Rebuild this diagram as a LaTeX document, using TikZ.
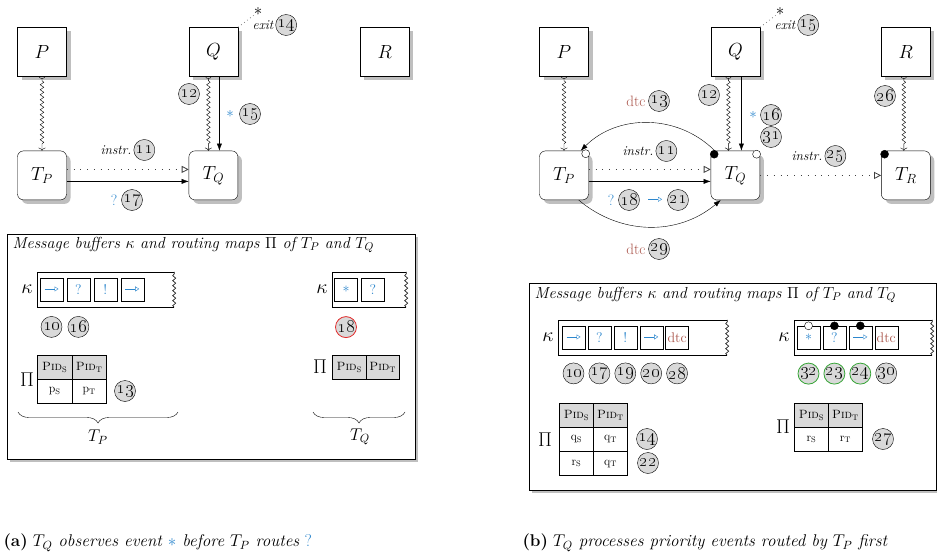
\documentclass[tikz,border=0pt]{standalone}
\usepackage{fix-cm}
\usepackage{amsmath}
\usepackage{tikz}
\usetikzlibrary{arrows,arrows.meta,calc,positioning,shadows,shapes,matrix,decorations.pathmorphing,decorations.pathreplacing}

\definecolor{evblue}{RGB}{45,135,205}
\definecolor{dtcred}{RGB}{170,85,75}
\definecolor{okgreen}{RGB}{55,165,55}
\definecolor{badred}{RGB}{225,45,45}

\newcommand{\fs}[1]{\fontsize{#1}{#1}\selectfont}
\newcommand{\osn}[1]{\oldstylenums{#1}}
\newcommand{\fwd}{\tikz[baseline=-0.6ex]\draw[evblue,-{Triangle[open,length=4pt,width=5pt]}] (0,0) -- (14pt,0);}

\begin{document}
\begin{tikzpicture}[auto,>=latex',x=1pt,y=-1pt,font=\fs{15}]
	\tikzstyle{proc} = [draw, fill=white, minimum size=49pt, font=\fs{19}, drop shadow={shadow xshift=4pt, shadow yshift=-4pt, fill=black!25, opacity=1}]
	\tikzstyle{thrd} = [proc, rounded corners=6pt]
	\tikzstyle{frame} = [draw, fill=white, inner sep=0pt, drop shadow={shadow xshift=3pt, shadow yshift=-3pt, fill=black!25, opacity=1}]
	\tikzstyle{num} = [circle, draw, fill=black!15, minimum size=21pt, inner sep=0pt, font=\fs{18}]
	\tikzstyle{lbl} = [font=\fs{13.5}\itshape, inner sep=1pt]
	\tikzstyle{big} = [font=\fs{20}, inner sep=1pt]
	\tikzstyle{wig} = [decorate, decoration={snake, amplitude=1.8pt, segment length=5pt, pre length=4pt, post length=5pt}, {Arc Barb[reversed,width=6pt,length=2pt]}-{To[length=3pt,width=7pt]}]
	\tikzstyle{msg} = [-{Latex[length=7pt,width=5pt]}]
	\tikzstyle{instr} = [black!75, line width=0.8pt, dash pattern=on 0.8pt off 6pt, -{Triangle[open,length=7pt,width=7pt]}]
	\tikzstyle{exitln} = [black!50, line width=0.8pt, dash pattern=on 0.8pt off 3pt]
	\tikzstyle{wavy} = [decorate, decoration={snake, amplitude=1.5pt, segment length=5pt}]
	\tikzstyle{slot} = [draw, minimum size=23pt, inner sep=0pt, font=\fs{14}, text=evblue]
	\tikzstyle{pend} = [circle, draw, fill=white, inner sep=0pt, minimum size=8pt]
	\tikzstyle{done} = [pend, fill=black]
	\tikzstyle{brace} = [decorate, decoration={brace, mirror, amplitude=11pt}]
	\tikzstyle{tbl} = [matrix of nodes, inner sep=0pt, column sep=-0.6pt, row sep=-0.6pt, nodes={draw, semithick, minimum width=34.5pt, minimum height=24pt, inner sep=0pt, font=\fs{12}}, row 1/.style={nodes={fill=black!15}}]
	\tikzstyle{star} = [font=\fs{17}, inner sep=0pt]
	
	\useasboundingbox (0,0) rectangle (937,559);
	
	% (a)
	\node [proc] (Pa) at (42,52) {$P$};
	\node [proc, right = 122pt of Pa] (Qa) {$Q$};
	\node [proc, right = 122pt of Qa] (Ra) {$R$};
	\node [thrd, below = 74pt of Pa] (TPa) {$T_P$};
	\node [thrd, below = 74pt of Qa] (TQa) {$T_Q$};
	
	\node [star] (xsa) at (258,12) {$\ast$};
	\node [lbl] (xla) at (263,25) {exit};
	\node [num, right = 1pt of xla] {\osn{14}};
	\draw [exitln] (Qa.north east) -- (xsa);
	
	\draw [wig] (Pa) -- (TPa);
	\draw [wig] ([xshift=-5pt]Qa.south) -- ([xshift=-5pt]TQa.north);
	\draw [msg] ([xshift=6pt]Qa.south) -- ([xshift=6pt]TQa.north);
	\node [num] at (189,94) {\osn{12}};
	\node [text=evblue] at (230,114) {$\ast$};
	\node [num] at (250,114) {\osn{15}};
	
	\draw [instr] ([yshift=6pt]TPa.east) -- ([yshift=6pt]TQa.west);
	\draw [msg] ([yshift=-6pt]TPa.east) -- ([yshift=-6pt]TQa.west);
	\node [lbl] (ia) at (116,150) {instr.};
	\node [num, right = 1pt of ia] {\osn{11}};
	\node [text=evblue] at (114,200) {?};
	\node [num] at (132,200) {\osn{17}};
	
	\node [frame, minimum width=408pt, minimum height=225pt] (fa) at (211,346.5) {};
	\node [anchor=west, font=\fs{16}\itshape] at (9,245) {Message buffers $\kappa$ and routing maps $\Pi$ of $T_P$ and $T_Q$};
	
	\node [minimum width=137pt, minimum height=35pt, inner sep=0pt] (kPa) at (105.5,289.5) {};
	\draw [semithick] (kPa.north east) -- (kPa.north west) -- (kPa.south west) -- (kPa.south east);
	\draw [semithick, wavy] (kPa.south east) -- (kPa.north east);
	\node [big, left = 3pt of kPa] {$\kappa$};
	\node [slot, right = 3pt of kPa.west] (a1) {\fwd};
	\node [slot, right = 3.5pt of a1] (a2) {?};
	\node [slot, right = 3.5pt of a2] (a3) {!};
	\node [slot, right = 3.5pt of a3] (a4) {\fwd};
	\node [num, below = 15pt of a1] {\osn{10}};
	\node [num, below = 15pt of a2] {\osn{16}};
	
	\node [big] at (27,380) {$\Pi$};
	\matrix [tbl, anchor=north west] (mPa) at (37,355) {
		\textsc{Pid}$_\mathrm{S}$ & \textsc{Pid}$_\mathrm{T}$ \\
		$\mathrm{p_S}$ & $\mathrm{p_T}$ \\
	};
	\node [num] at (125,391) {\osn{13}};
	\draw [brace] (18,412) -- (178,412);
	\node [font=\fs{17}] at (98,437) {$T_P$};
	
	\node [minimum width=74pt, minimum height=35pt, inner sep=0pt] (kQa) at (369,289.5) {};
	\draw [semithick] (kQa.north east) -- (kQa.north west) -- (kQa.south west) -- (kQa.south east);
	\draw [semithick, wavy] (kQa.south east) -- (kQa.north east);
	\node [big, left = 3pt of kQa] {$\kappa$};
	\node [slot, right = 2.5pt of kQa.west] (c1) {$\ast$};
	\node [slot, right = 3.5pt of c1] (c2) {?};
	\node [num, draw=badred, thick, below = 15pt of c1] {\osn{18}};
	
	\node [big] at (320,367) {$\Pi$};
	\matrix [tbl, nodes={minimum width=33.5pt}, anchor=north west] (mQa) at (332,355) {
		\textsc{Pid}$_\mathrm{S}$ & \textsc{Pid}$_\mathrm{T}$ \\
	};
	\draw [brace] (313,412) -- (405,412);
	\node [font=\fs{17}] at (360,437) {$T_Q$};
	
	\node [anchor=west, font=\fs{17}] at (0,543) {\textbf{(a)} \textit{$T_Q$ observes event ${\color{evblue}\ast}$ before $T_P$ routes} {\color{evblue}?}};
	
	% (b)
	\node [proc] (Pb) at (564,52) {$P$};
	\node [proc, right = 122pt of Pb] (Qb) {$Q$};
	\node [proc, right = 121pt of Qb] (Rb) {$R$};
	\node [thrd, below = 74pt of Pb] (TPb) {$T_P$};
	\node [thrd, below = 74pt of Qb] (TQb) {$T_Q$};
	\node [thrd, below = 74pt of Rb] (TRb) {$T_R$};
	
	\node [star] (xsb) at (780,12) {$\ast$};
	\node [lbl] (xlb) at (785,25) {exit};
	\node [num, right = 1pt of xlb] {\osn{15}};
	\draw [exitln] (Qb.north east) -- (xsb);
	
	\draw [wig] (Pb) -- (TPb);
	\draw [wig] ([xshift=-7pt]Qb.south) -- ([xshift=-7pt]TQb.north);
	\draw [msg] ([xshift=6pt]Qb.south) -- ([xshift=6pt]TQb.north);
	\draw [wig] ([xshift=-2pt]Rb.south) -- ([xshift=-2pt]TRb.north);
	\node [num] at (709,95) {\osn{12}};
	\node [text=evblue] at (753,115) {$\ast$};
	\node [num] at (771,115) {\osn{16}};
	\node [num] at (771,137) {\osn{31}};
	\node [num] at (885,96) {\osn{26}};
	
	\draw [msg] ([xshift=4pt]TQb.north west) to[bend right=45] ([xshift=-8pt]TPb.north east);
	\draw [msg] ([xshift=-10pt]TPb.south east) to[bend right=40] ([xshift=10pt]TQb.south west);
	\node [text=dtcred] at (636,101) {dtc};
	\node [num] at (659,101) {\osn{13}};
	\node [text=dtcred] at (636,249) {dtc};
	\node [num] at (659,249) {\osn{29}};
	
	\draw [instr] ([yshift=6pt]TPb.east) -- ([yshift=6pt]TQb.west);
	\draw [msg] ([yshift=-6pt]TPb.east) -- ([yshift=-6pt]TQb.west);
	\draw [instr] (TQb) -- (TRb);
	\node [lbl] (ib) at (638,151) {instr.};
	\node [num, right = 1pt of ib] {\osn{11}};
	\node [lbl] (ic) at (807,156) {instr.};
	\node [num, right = 1pt of ic] {\osn{25}};
	\node [text=evblue] at (611,200) {?};
	\node [num] at (629,200) {\osn{18}};
	\node at (655,200) {\fwd};
	\node [num] at (678,200) {\osn{21}};
	
	\node [pend] at ([xshift=-3pt,yshift=-3pt]TPb.north east) {};
	\node [done] at ([xshift=3.5pt,yshift=-3.5pt]TQb.north west) {};
	\node [pend] at ([xshift=-3.5pt,yshift=-3.5pt]TQb.north east) {};
	\node [done] at ([xshift=3.5pt,yshift=-3.5pt]TRb.north west) {};
	
	\node [frame, minimum width=407pt, minimum height=207pt] (fb) at (732.5,386.5) {};
	\node [anchor=west, font=\fs{16}\itshape] at (531,295) {Message buffers $\kappa$ and routing maps $\Pi$ of $T_P$ and $T_Q$};
	
	\node [minimum width=169pt, minimum height=35pt, inner sep=0pt] (kPb) at (642.5,337.5) {};
	\draw [semithick] (kPb.north east) -- (kPb.north west) -- (kPb.south west) -- (kPb.south east);
	\draw [semithick, wavy] (kPb.south east) -- (kPb.north east);
	\node [big, left = 3pt of kPb] {$\kappa$};
	\node [slot, right = 4pt of kPb.west] (b1) {\fwd};
	\node [slot, right = 2.5pt of b1] (b2) {?};
	\node [slot, right = 2.5pt of b2] (b3) {!};
	\node [slot, right = 2.5pt of b3] (b4) {\fwd};
	\node [slot, text=dtcred, right = 2.5pt of b4] (b5) {dtc};
	\node [num, below = 13.5pt of b1] {\osn{10}};
	\node [num, below = 13.5pt of b2] {\osn{17}};
	\node [num, below = 13.5pt of b3] {\osn{19}};
	\node [num, below = 13.5pt of b4] {\osn{20}};
	\node [num, below = 13.5pt of b5] {\osn{28}};
	
	\node [minimum width=138pt, minimum height=35pt, inner sep=0pt] (kQb) at (863,337.5) {};
	\draw [semithick] (kQb.north east) -- (kQb.north west) -- (kQb.south west) -- (kQb.south east);
	\draw [semithick, wavy] (kQb.south east) -- (kQb.north east);
	\node [big, left = 3pt of kQb] {$\kappa$};
	\node [slot, right = 3pt of kQb.west] (d1) {$\ast$};
	\node [slot, right = 2.5pt of d1] (d2) {?};
	\node [slot, right = 2.5pt of d2] (d3) {\fwd};
	\node [slot, text=dtcred, right = 2.5pt of d3] (d4) {dtc};
	\node [pend] at (d1.north) {};
	\node [done] at (d2.north) {};
	\node [done] at (d3.north) {};
	\node [num, draw=okgreen, thick, below = 13.5pt of d1] {\osn{32}};
	\node [num, draw=okgreen, thick, below = 13.5pt of d2] {\osn{23}};
	\node [num, draw=okgreen, thick, below = 13.5pt of d3] {\osn{24}};
	\node [num, below = 13.5pt of d4] {\osn{30}};
	
	\node [big] at (545,440) {$\Pi$};
	\matrix [tbl, nodes={minimum width=34pt}, anchor=north west] (mPb) at (559,403) {
		\textsc{Pid}$_\mathrm{S}$ & \textsc{Pid}$_\mathrm{T}$ \\
		$\mathrm{q_S}$ & $\mathrm{q_T}$ \\
		$\mathrm{r_S}$ & $\mathrm{q_T}$ \\
	};
	\node [num] at (647,439) {\osn{14}};
	\node [num] at (648,463) {\osn{22}};
	
	\node [big] at (783,427) {$\Pi$};
	\matrix [tbl, nodes={minimum width=34pt}, anchor=north west] (mQb) at (794,403) {
		\textsc{Pid}$_\mathrm{S}$ & \textsc{Pid}$_\mathrm{T}$ \\
		$\mathrm{r_S}$ & $\mathrm{r_T}$ \\
	};
	\node [num] at (883,439) {\osn{27}};
	
	\node [anchor=west, font=\fs{17}] at (519,543) {\textbf{(b)} \textit{$T_Q$ processes priority events routed by $T_P$ first}};
	
\end{tikzpicture}
\end{document}
